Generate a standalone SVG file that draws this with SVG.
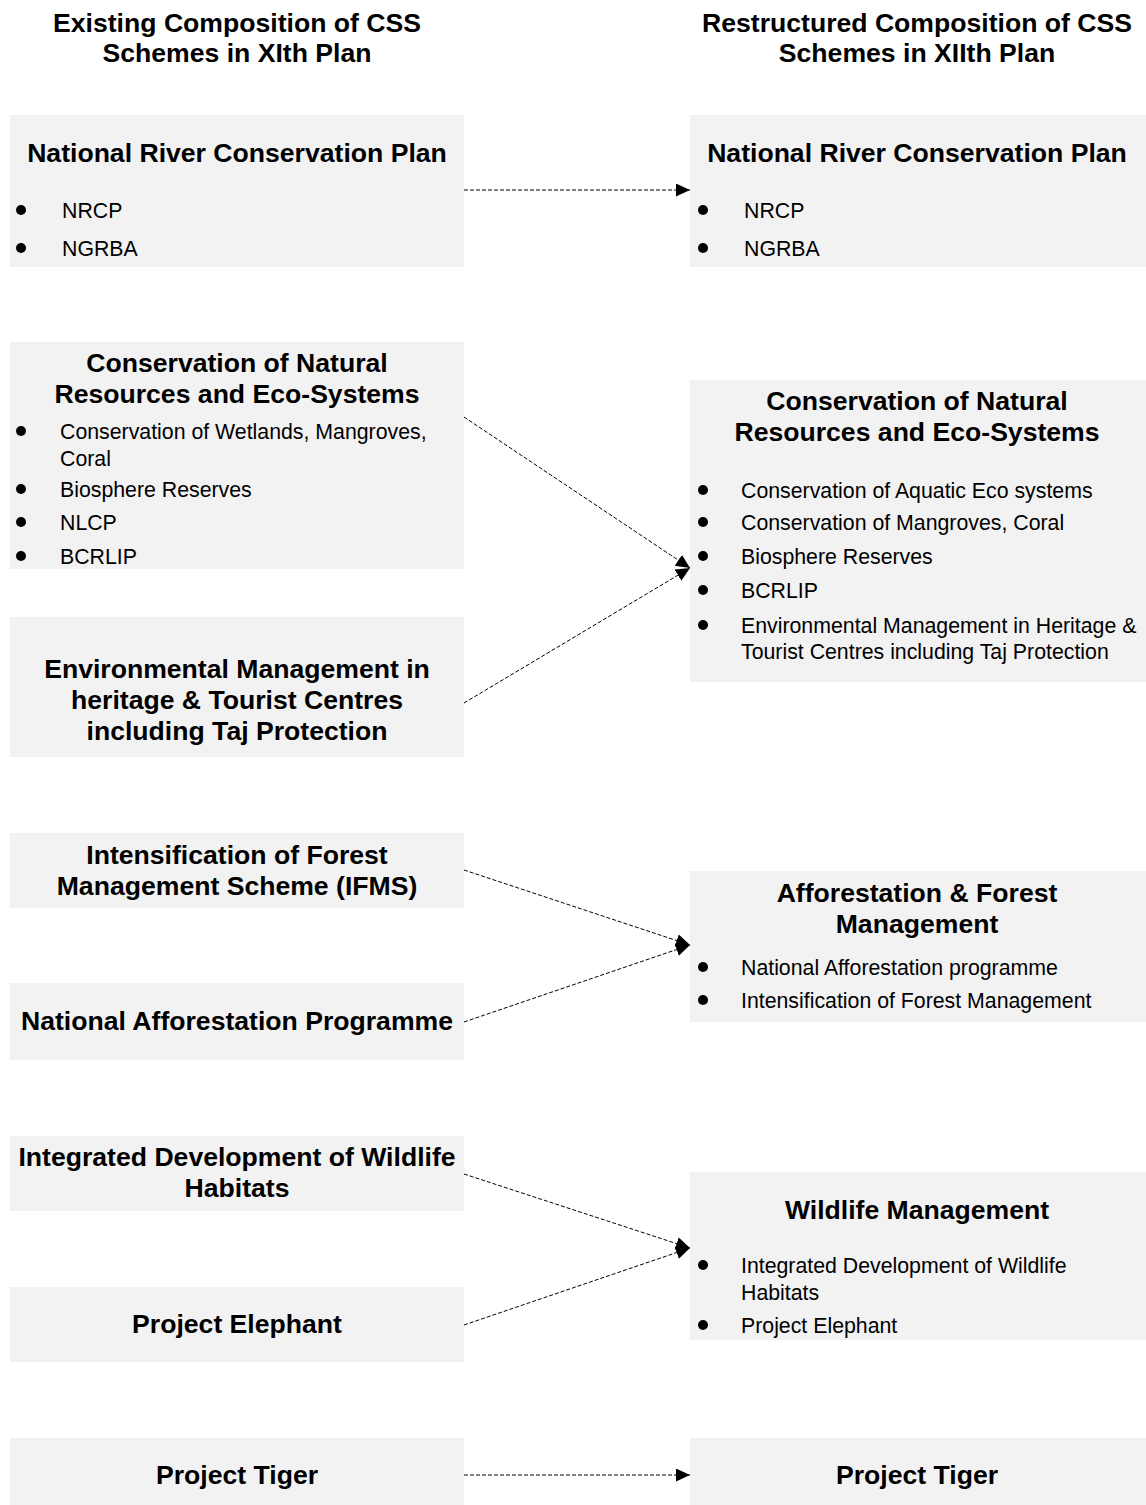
<svg xmlns="http://www.w3.org/2000/svg" width="1146" height="1505" viewBox="0 0 1146 1505">
<defs>
<style>
.box{fill:#f2f2f2;stroke:none}
.h{font-family:"Liberation Sans",Arial,sans-serif;font-weight:bold;font-size:26.6px;fill:#000;text-anchor:middle}
.b{font-family:"Liberation Sans",Arial,sans-serif;font-size:21.3px;fill:#000}
.dot{fill:#000}
.con{fill:none;stroke:#000;stroke-width:1;stroke-dasharray:4 2}
</style>
<marker id="ah" markerUnits="userSpaceOnUse" markerWidth="14" markerHeight="14" refX="14" refY="6.5" orient="auto">
<path d="M0,0 L14,6.5 L0,13 z" fill="#000"/>
</marker>
</defs>
<rect width="1146" height="1505" fill="#fff"/>

<g id="headers">
<text class="h" x="237" y="32">Existing Composition of CSS</text>
<text class="h" x="237" y="62">Schemes in XIth Plan</text>
<text class="h" x="917" y="32">Restructured Composition of CSS</text>
<text class="h" x="917" y="62">Schemes in XIIth Plan</text>
</g>

<g id="L1">
<rect class="box" x="10" y="115" width="454" height="152"/>
<text class="h" x="237" y="162">National River Conservation Plan</text>
<circle class="dot" cx="21" cy="210" r="5"/><text class="b" x="62" y="218">NRCP</text>
<circle class="dot" cx="21" cy="248" r="5"/><text class="b" x="62" y="256">NGRBA</text>
</g>

<g id="L2">
<rect class="box" x="10" y="342" width="454" height="227"/>
<text class="h" x="237" y="372">Conservation of Natural</text>
<text class="h" x="237" y="403">Resources and Eco-Systems</text>
<circle class="dot" cx="21" cy="431" r="5"/><text class="b" x="60" y="439">Conservation of Wetlands, Mangroves,</text>
<text class="b" x="60" y="466">Coral</text>
<circle class="dot" cx="21" cy="489" r="5"/><text class="b" x="60" y="497">Biosphere Reserves</text>
<circle class="dot" cx="21" cy="522" r="5"/><text class="b" x="60" y="530">NLCP</text>
<circle class="dot" cx="21" cy="556" r="5"/><text class="b" x="60" y="564">BCRLIP</text>
</g>

<g id="L3">
<rect class="box" x="10" y="617" width="454" height="140"/>
<text class="h" x="237" y="678">Environmental Management in</text>
<text class="h" x="237" y="709">heritage &amp; Tourist Centres</text>
<text class="h" x="237" y="740">including Taj Protection</text>
</g>

<g id="L4">
<rect class="box" x="10" y="833" width="454" height="75"/>
<text class="h" x="237" y="864">Intensification of Forest</text>
<text class="h" x="237" y="895">Management Scheme (IFMS)</text>
</g>

<g id="L5">
<rect class="box" x="10" y="983" width="454" height="77"/>
<text class="h" x="237" y="1030">National Afforestation Programme</text>
</g>

<g id="L6">
<rect class="box" x="10" y="1136" width="454" height="75"/>
<text class="h" x="237" y="1166">Integrated Development of Wildlife</text>
<text class="h" x="237" y="1197">Habitats</text>
</g>

<g id="L7">
<rect class="box" x="10" y="1287" width="454" height="75"/>
<text class="h" x="237" y="1333">Project Elephant</text>
</g>

<g id="L8">
<rect class="box" x="10" y="1438" width="454" height="67"/>
<text class="h" x="237" y="1484">Project Tiger</text>
</g>

<g id="R1">
<rect class="box" x="690" y="115" width="456" height="152"/>
<text class="h" x="917" y="162">National River Conservation Plan</text>
<circle class="dot" cx="703" cy="210" r="5"/><text class="b" x="744" y="218">NRCP</text>
<circle class="dot" cx="703" cy="248" r="5"/><text class="b" x="744" y="256">NGRBA</text>
</g>

<g id="R2">
<rect class="box" x="690" y="380" width="456" height="302"/>
<text class="h" x="917" y="410">Conservation of Natural</text>
<text class="h" x="917" y="441">Resources and Eco-Systems</text>
<circle class="dot" cx="703" cy="490" r="5"/><text class="b" x="741" y="498">Conservation of Aquatic Eco systems</text>
<circle class="dot" cx="703" cy="522" r="5"/><text class="b" x="741" y="530">Conservation of Mangroves, Coral</text>
<circle class="dot" cx="703" cy="556" r="5"/><text class="b" x="741" y="564">Biosphere Reserves</text>
<circle class="dot" cx="703" cy="590" r="5"/><text class="b" x="741" y="598">BCRLIP</text>
<circle class="dot" cx="703" cy="625" r="5"/><text class="b" x="741" y="633">Environmental Management in Heritage &amp;</text>
<text class="b" x="741" y="659">Tourist Centres including Taj Protection</text>
</g>

<g id="R3">
<rect class="box" x="690" y="871" width="456" height="151"/>
<text class="h" x="917" y="902">Afforestation &amp; Forest</text>
<text class="h" x="917" y="933">Management</text>
<circle class="dot" cx="703" cy="967" r="5"/><text class="b" x="741" y="975">National Afforestation programme</text>
<circle class="dot" cx="703" cy="1000" r="5"/><text class="b" x="741" y="1008">Intensification of Forest Management</text>
</g>

<g id="R4">
<rect class="box" x="690" y="1172" width="456" height="168"/>
<text class="h" x="917" y="1219">Wildlife Management</text>
<circle class="dot" cx="703" cy="1265" r="5"/><text class="b" x="741" y="1273">Integrated Development of Wildlife</text>
<text class="b" x="741" y="1300">Habitats</text>
<circle class="dot" cx="703" cy="1325" r="5"/><text class="b" x="741" y="1333">Project Elephant</text>
</g>

<g id="R5">
<rect class="box" x="690" y="1438" width="456" height="67"/>
<text class="h" x="917" y="1484">Project Tiger</text>
</g>

<g id="connectors">
<line class="con" x1="464" y1="190" x2="690" y2="190" marker-end="url(#ah)"/>
<line class="con" x1="464" y1="417" x2="690" y2="568" marker-end="url(#ah)"/>
<line class="con" x1="464" y1="703" x2="690" y2="568" marker-end="url(#ah)"/>
<line class="con" x1="464" y1="870" x2="690" y2="945" marker-end="url(#ah)"/>
<line class="con" x1="464" y1="1022" x2="690" y2="945" marker-end="url(#ah)"/>
<line class="con" x1="464" y1="1174" x2="690" y2="1248" marker-end="url(#ah)"/>
<line class="con" x1="464" y1="1325" x2="690" y2="1248" marker-end="url(#ah)"/>
<line class="con" x1="464" y1="1475" x2="690" y2="1475" marker-end="url(#ah)"/>
</g>
</svg>
